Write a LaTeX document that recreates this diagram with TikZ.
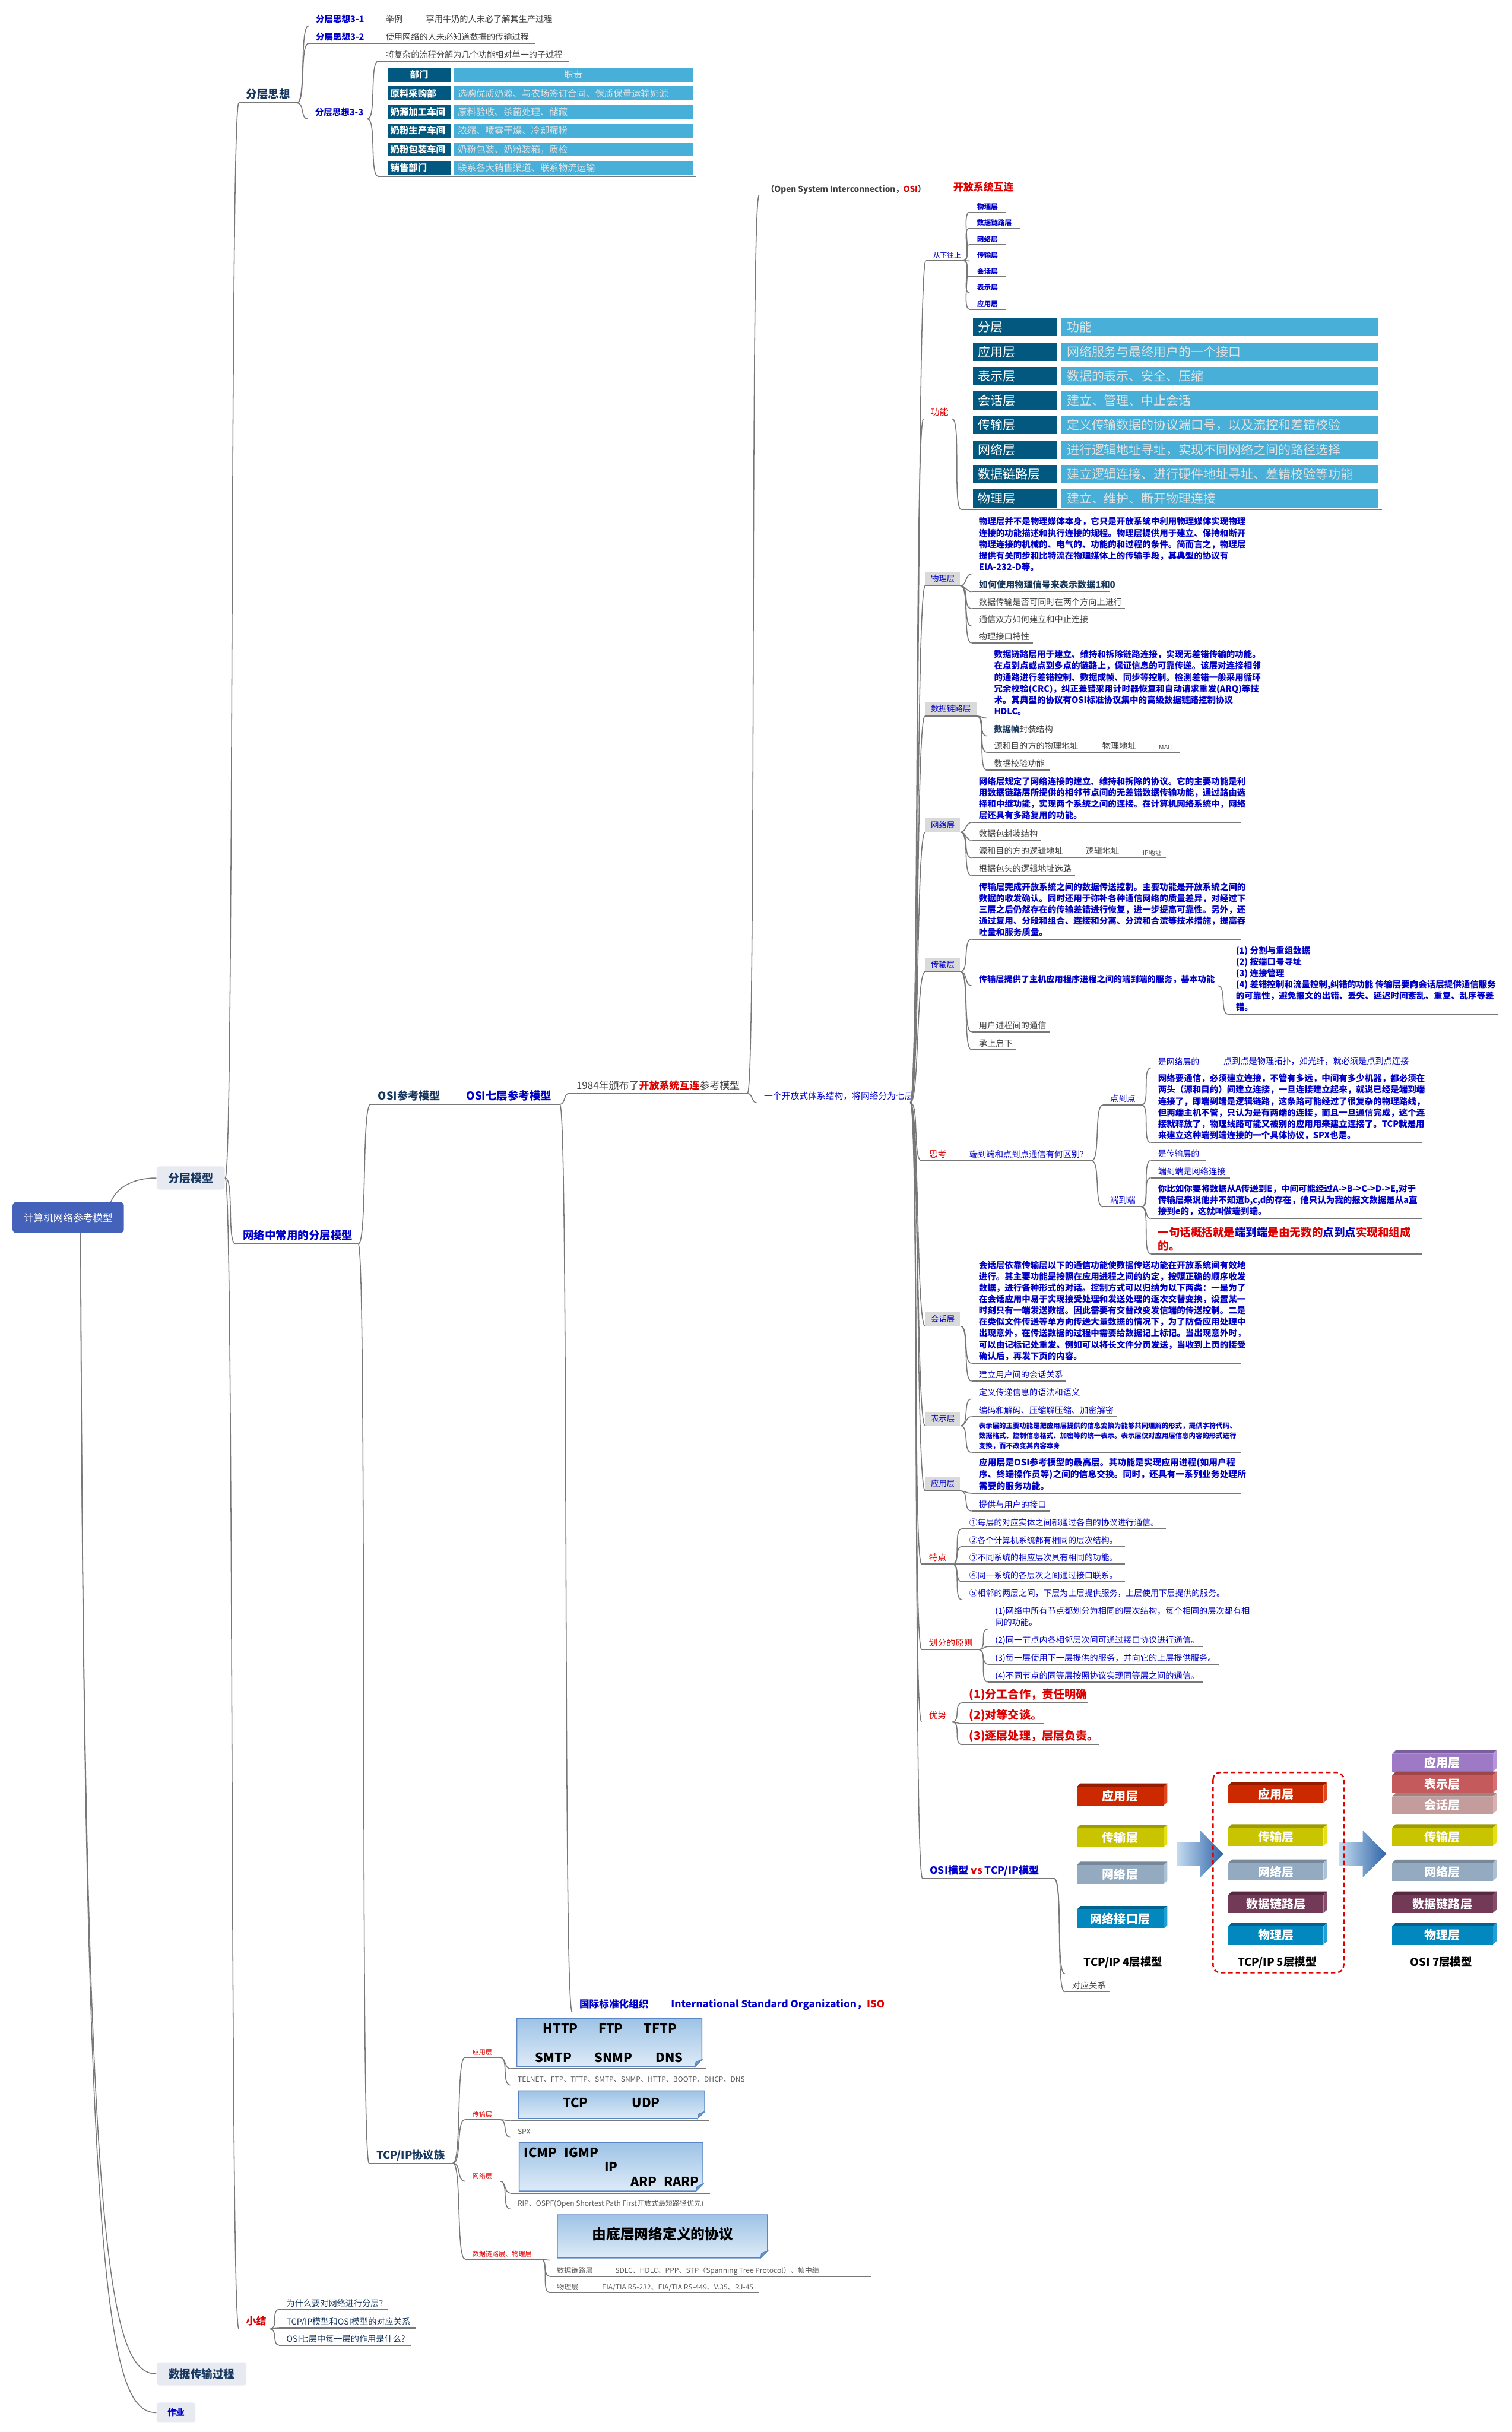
\documentclass[tikz,border=0pt]{standalone}
\usepackage{fontspec}
\setmainfont{Noto Sans CJK SC}
\usepackage{xcolor}
\usepackage{tikz}
\usetikzlibrary{positioning,calc}

\tikzset{
  link/.style={draw=linegray, line width=0.5pt},
  uline/.style={draw=linegray, line width=0.5pt},
  txt/.style={anchor=base west, inner sep=0pt},
  partxt/.style={anchor=south west, inner sep=0pt, align=left},
  celltxt/.style={anchor=west, inner sep=0pt},
  rootbox/.style={fill=rootblue, text=white, rounded corners=2pt, minimum width=60.8pt, minimum height=16.9pt, inner sep=0pt, font=\fontsize{5.4}{5.4}\selectfont},
  pill/.style={fill=pillbg, text=navy, rounded corners=1.5pt, minimum width=37.2pt, minimum height=12.7pt, inner sep=0pt, font=\fontsize{6.2}{6.2}\selectfont\bfseries},
  lblbox/.style={fill=lblgray, text=refblue, minimum width=18.9pt, minimum height=7.5pt, inner sep=0pt, font=\fontsize{4.35}{4.35}\selectfont},
  layertxt/.style={text=white, inner sep=0pt, font=\fontsize{6.5}{6.5}\selectfont\bfseries},
  prototxt/.style={text=black, inner sep=0pt, font=\fontsize{7}{7}\selectfont\bfseries},
  modeltxt/.style={text=black, inner sep=0pt, font=\fontsize{6}{6}\selectfont\bfseries},
}

\newcommand{\pfont}{\fontsize{4.7}{6.2}\selectfont\bfseries}
\newcommand{\conn}[2]{\draw[link] (#1) to[out=0,in=180,max distance=5pt] (#2);}
\newcommand{\leaf}[7]{%
  \coordinate (#1-l) at (#2,#4);
  \coordinate (#1-r) at (#3,#4);
  \draw[uline] (#1-l) -- (#1-r);
  \node[txt,#6,font=\fontsize{#5}{#5}\selectfont] (#1) at ({#2+4.5},{#4-0.47*#5}) {#7};}
\newcommand{\paranode}[7]{%
  \coordinate (#1-l) at (#2,#4);
  \coordinate (#1-r) at (#3,#4);
  \draw[uline] (#1-l) -- (#1-r);
  \node[partxt,#6,font=#5] (#1) at ({#2+4.5},{#4-1.6}) {#7};}
\newcommand{\layerbox}[7]{%
  \fill[#6t] (#2,{#3+2.2}) -- ({#2+2.2},#3) -- (#4,#3) -- ({#4-2.5},{#3+2.2}) -- cycle;
  \fill[#6s] ({#4-2.5},{#3+2.2}) -- (#4,#3) -- (#4,{#5-2.2}) -- ({#4-2.5},#5) -- cycle;
  \fill[#6f] (#2,{#3+2.2}) rectangle ({#4-2.5},#5);
  \node[layertxt] (#1) at ({(#2+#4-2.5)/2},{(#3+2.2+#5)/2}) {#7};}
\newcommand{\protobox}[5]{%
  \shade[top color=protop, bottom color=probot] (#2,#3) -- (#4,#3) -- (#4,{#5-4.5}) -- ({#4-4.5},#5) -- (#2,#5) -- cycle;
  \draw[proline, line width=0.5pt] (#2,#3) -- (#4,#3) -- (#4,{#5-4.5}) -- ({#4-4.5},#5) -- (#2,#5) -- cycle;
  \filldraw[draw=proline, fill=profold, line width=0.4pt] (#4,{#5-4.5}) -- ({#4-4.5},#5) -- ({#4-3.8},{#5-3}) -- cycle;
  \coordinate (#1) at ({(#2+#4)/2},{(#3+#5)/2});}

\begin{document}
\begin{tikzpicture}[x=0.02977cm, y=-0.02977cm]
    % Define colors
    \definecolor{refblue}{RGB}{0,0,204}
    \definecolor{refred}{RGB}{224,0,0}
    \definecolor{navy}{RGB}{23,55,94}
    \definecolor{txtgray}{RGB}{64,64,64}
    \definecolor{protgray}{RGB}{89,89,89}
    \definecolor{linegray}{RGB}{120,120,120}
    \definecolor{rootblue}{RGB}{68,98,186}
    \definecolor{pillbg}{RGB}{232,234,242}
    \definecolor{lblgray}{RGB}{218,218,218}
    \definecolor{tabdark}{RGB}{2,88,126}
    \definecolor{tablight}{RGB}{72,176,216}
    \definecolor{tabtext}{RGB}{225,225,225}
    \definecolor{protop}{RGB}{157,195,230}
    \definecolor{probot}{RGB}{222,235,247}
    \definecolor{proline}{RGB}{91,134,196}
    \definecolor{profold}{RGB}{110,150,205}
    \definecolor{arrl}{RGB}{197,220,240}
    \definecolor{arrr}{RGB}{46,100,168}
    \definecolor{appf}{RGB}{204,41,0}    \definecolor{appt}{RGB}{150,28,0}   \definecolor{apps}{RGB}{224,70,30}
    \definecolor{traf}{RGB}{200,196,0}   \definecolor{trat}{RGB}{158,155,0}  \definecolor{tras}{RGB}{228,224,20}
    \definecolor{netf}{RGB}{148,170,192} \definecolor{nett}{RGB}{118,136,154} \definecolor{nets}{RGB}{172,192,212}
    \definecolor{phyf}{RGB}{2,135,190}   \definecolor{phyt}{RGB}{0,100,142}  \definecolor{phys}{RGB}{30,160,214}
    \definecolor{dlkf}{RGB}{115,58,88}   \definecolor{dlkt}{RGB}{88,40,64}   \definecolor{dlks}{RGB}{135,76,106}
    \definecolor{osaf}{RGB}{158,122,198} \definecolor{osat}{RGB}{122,94,160} \definecolor{osas}{RGB}{182,150,218}
    \definecolor{prsf}{RGB}{196,90,92}   \definecolor{prst}{RGB}{160,70,72}  \definecolor{prss}{RGB}{216,112,114}
    \definecolor{sesf}{RGB}{196,156,156} \definecolor{sest}{RGB}{164,128,128} \definecolor{sess}{RGB}{216,178,178}

    \fill[white] (0,0) rectangle (975,1568);
    \useasboundingbox (0,0) rectangle (975,1568);

    % Root and first level
    \node[rootbox] (root) at (44,785) {计算机网络参考模型};
    \node[pill] (fcmx) at (123,759.5) {分层模型};
    \node[pill, minimum width=49pt, font=\fontsize{6}{6}\selectfont\bfseries] (sjcs) at (130,1530.5) {数据传输过程};
    \node[pill, minimum width=21.1pt, minimum height=11pt, text=refblue, font=\fontsize{4.7}{4.7}\selectfont\bfseries] (zy) at (113.5,1555.5) {作业};
    \coordinate (roothead) at (71.4,775);
    \coordinate (rootfoot) at (52,795);
    \draw[link] (roothead) .. controls (76,764) and (88,759.5) .. (fcmx.west);
    \draw[link] (rootfoot) .. controls (54,1450) and (70,1530.5) .. (sjcs.west);
    \draw[link] (rootfoot) .. controls (54,1480) and (70,1555.5) .. (zy.west);

    % Second level
    \leaf{fcsx}{154}{191.5}{66.3}{6}{text=navy}{\bfseries 分层思想}
    \leaf{wlzc}{152}{231}{802}{6}{text=refblue}{\bfseries 网络中常用的分层模型}
    \leaf{xj}{154}{174.3}{1501.5}{5.5}{text=refred}{\bfseries 小结}
    \conn{fcmx.east}{fcsx-l}
    \conn{fcmx.east}{wlzc-l}
    \conn{fcmx.east}{xj-l}

    % Layering idea
    \leaf{sxa}{199}{238}{16.6}{4.7}{text=refblue}{\bfseries 分层思想3-1}
    \leaf{jl}{244}{264}{16.6}{4.6}{text=txtgray}{举例}
    \leaf{xyny}{270}{360.6}{16.6}{4.6}{text=txtgray}{享用牛奶的人未必了解其生产过程}
    \leaf{sxb}{199}{238}{28}{4.7}{text=refblue}{\bfseries 分层思想3-2}
    \leaf{sywl}{244}{345}{28}{4.6}{text=txtgray}{使用网络的人未必知道数据的传输过程}
    \leaf{sxc}{198.5}{237}{76.7}{4.7}{text=refblue}{\bfseries 分层思想3-3}
    \leaf{jfz}{244}{367}{39.4}{4.6}{text=txtgray}{将复杂的流程分解为几个功能相对单一的子过程}
    \coordinate (tba-l) at (244,113.7);
    \coordinate (tba-r) at (449,113.7);
    \draw[uline] (tba-l) -- (tba-r);
    \conn{fcsx-r}{sxa-l}
    \conn{fcsx-r}{sxb-l}
    \conn{fcsx-r}{sxc-l}
    \conn{sxa-r}{jl-l}
    \conn{jl-r}{xyny-l}
    \conn{sxb-r}{sywl-l}
    \conn{sxc-r}{jfz-l}
    \conn{sxc-r}{tba-l}

    % Department table
    \fill[tabdark] (250,43.7) rectangle (290.6,52.8);
    \fill[tablight] (292.7,43.7) rectangle (446.6,52.8);
    \node[text=white, inner sep=0pt, font=\fontsize{5}{5}\selectfont\bfseries] (dept0) at (270.3,48.25) {部门};
    \node[text=tabtext, inner sep=0pt, font=\fontsize{5}{5}\selectfont] (duty0) at (369.6,48.25) {职责};
    \foreach \i/\dept/\duty in {1/原料采购部/{选购优质奶源、与农场签订合同、保质保量运输奶源}, 2/奶源加工车间/{原料验收、杀菌处理、储藏}, 3/奶粉生产车间/{浓缩、喷雾干燥、冷却筛粉}, 4/奶粉包装车间/{奶粉包装、奶粉装箱，质检}, 5/销售部门/{联系各大销售渠道、联系物流运输}} {
        \fill[tabdark] (250,{43.7+12*\i}) rectangle (290.6,{52.8+12*\i});
        \fill[tablight] (292.7,{43.7+12*\i}) rectangle (446.6,{52.8+12*\i});
        \node[celltxt, text=white, font=\fontsize{5}{5}\selectfont\bfseries] (dept\i) at (251.5,{48.25+12*\i}) {\dept};
        \node[celltxt, text=tabtext, font=\fontsize{5}{5}\selectfont] (duty\i) at (295,{48.25+12*\i}) {\duty};
    }

    % Common layered models
    \leaf{osick}{239}{292}{712}{5.9}{text=navy}{\bfseries OSI参考模型}
    \leaf{osiqc}{296}{361}{712}{6}{text=refblue}{\bfseries OSI七层参考模型}
    \leaf{tcpz}{238}{292}{1394.7}{5.9}{text=navy}{\bfseries TCP/IP协议族}
    \conn{wlzc-r}{osick-l}
    \conn{wlzc-r}{tcpz-l}
    \conn{osick-r}{osiqc-l}

    \leaf{nb}{367}{482}{705}{5.5}{text=txtgray}{1984年颁布了\textcolor{refred}{\bfseries 开放系统互连}参考模型}
    \leaf{gjbz}{368.9}{426}{1297.1}{5.4}{text=refblue}{\bfseries 国际标准化组织}
    \leaf{isoen}{428}{584}{1297.1}{5.5}{text=refblue}{\bfseries International Standard Organization，\textcolor{refred}{ISO}}
    \conn{osiqc-r}{nb-l}
    \conn{osiqc-r}{gjbz-l}
    \conn{gjbz-r}{isoen-l}

    \leaf{osien}{489.5}{608}{125.8}{4.4}{text=txtgray}{\bfseries （Open System Interconnection，\textcolor{refred}{OSI}）}
    \leaf{kfxt}{610}{655.2}{125.8}{5.5}{text=refred}{\bfseries 开放系统互连}
    \leaf{ygkf}{488}{587}{711}{4.8}{text=refblue}{一个开放式体系结构，将网络分为七层}
    \conn{nb-r}{osien-l}
    \conn{nb-r}{ygkf-l}
    \conn{osien-r}{kfxt-l}

    % Seven layers, bottom up
    \leaf{cxws}{597}{621.4}{168}{3.8}{text=refblue}{从下往上}
    \conn{ygkf-r}{cxws-l}
    \foreach \i/\yy/\xe/\lbl in {1/136.8/648.5/物理层, 2/147.2/657.5/数据链路层, 3/157.7/648.5/网络层, 4/168.2/648.5/传输层, 5/178.4/648.5/会话层, 6/188.9/648.5/表示层, 7/199.4/648.5/应用层} {
        \leaf{cx\i}{625.3}{\xe}{\yy}{3.8}{text=refblue}{\bfseries\lbl}
        \conn{cxws-r}{cx\i-l}
    }

    % Function table
    \leaf{gn}{595.5}{614}{270}{4.8}{text=refred}{功能}
    \coordinate (tbb-l) at (620,328.7);
    \coordinate (tbb-r) at (891.2,328.7);
    \draw[uline] (tbb-l) -- (tbb-r);
    \conn{ygkf-r}{gn-l}
    \conn{gn-r}{tbb-l}
    \foreach \i/\lay/\fun in {0/分层/功能, 1/应用层/{网络服务与最终用户的一个接口}, 2/表示层/{数据的表示、安全、压缩}, 3/会话层/{建立、管理、中止会话}, 4/传输层/{定义传输数据的协议端口号，以及流控和差错校验}, 5/网络层/{进行逻辑地址寻址，实现不同网络之间的路径选择}, 6/数据链路层/{建立逻辑连接、进行硬件地址寻址、差错校验等功能}, 7/物理层/{建立、维护、断开物理连接}} {
        \fill[tabdark] (627.6,{205+15.8*\i}) rectangle (681.4,{216.8+15.8*\i});
        \fill[tablight] (684.3,{205+15.8*\i}) rectangle (888.7,{216.8+15.8*\i});
        \node[celltxt, text=white, font=\fontsize{6.8}{6.8}\selectfont] (lay\i) at (630.6,{210.9+15.8*\i}) {\lay};
        \node[celltxt, text=tabtext, font=\fontsize{6.8}{6.8}\selectfont] (fun\i) at (687.7,{210.9+15.8*\i}) {\fun};
    }

    % Layer label boxes
    \node[lblbox] (wlc) at (608,373) {物理层};
    \node[lblbox, minimum width=28pt] (sjl) at (613.2,457) {数据链路层};
    \node[lblbox] (wll) at (608,531.85) {网络层};
    \node[lblbox] (csl) at (608,621.75) {传输层};
    \node[lblbox] (hhc) at (608,850.4) {会话层};
    \node[lblbox] (bsc) at (608,914.6) {表示层};
    \node[lblbox] (yyc) at (608,956.6) {应用层};
    \foreach \b in {wlc,sjl,wll,csl,hhc,bsc,yyc} {
        \draw[uline] (\b.south west) -- (\b.south east);
        \conn{ygkf-r}{\b.south west}
    }

    % Physical layer
    \paranode{wlcp}{626.5}{800.5}{370}{\pfont}{text=refblue}{物理层并不是物理媒体本身，它只是开放系统中利用物理媒体实现物理\\连接的功能描述和执行连接的规程。物理层提供用于建立、保持和断开\\物理连接的机械的、电气的、功能的和过程的条件。简而言之，物理层\\提供有关同步和比特流在物理媒体上的传输手段，其典型的协议有\\EIA-232-D等。}
    \leaf{wlca}{626.5}{715.6}{381.5}{4.9}{text=navy}{\bfseries 如何使用物理信号来表示数据1和0}
    \leaf{wlcb}{626.5}{725.4}{392.4}{4.6}{text=txtgray}{数据传输是否可同时在两个方向上进行}
    \leaf{wlcc}{626.5}{703.7}{403.7}{4.6}{text=txtgray}{通信双方如何建立和中止连接}
    \leaf{wlcd}{626.5}{666.2}{414.6}{4.6}{text=txtgray}{物理接口特性}
    \foreach \c in {wlcp,wlca,wlcb,wlcc,wlcd} {\conn{wlc.south east}{\c-l}}

    % Data link layer
    \paranode{sjlp}{636.3}{811}{463}{\pfont}{text=refblue}{数据链路层用于建立、维持和拆除链路连接，实现无差错传输的功能。\\在点到点或点到多点的链路上，保证信息的可靠传递。该层对连接相邻\\的通路进行差错控制、数据成帧、同步等控制。检测差错一般采用循环\\冗余校验(CRC)，纠正差错采用计时器恢复和自动请求重发(ARQ)等技\\术。其典型的协议有OSI标准协议集中的高级数据链路控制协议\\HDLC。}
    \leaf{sjla}{636.3}{682.3}{474.5}{4.6}{text=txtgray}{\textcolor{navy}{\bfseries 数据帧}封装结构}
    \leaf{sjlb}{636.3}{696.4}{485}{4.6}{text=txtgray}{源和目的方的物理地址}
    \leaf{sjlc}{706.1}{733.3}{485}{4.6}{text=txtgray}{物理地址}
    \leaf{sjld}{742.5}{760.5}{485}{3.5}{text=txtgray}{MAC}
    \leaf{sjle}{636.3}{677.2}{496.6}{4.6}{text=txtgray}{数据校验功能}
    \foreach \c in {sjlp,sjla,sjlb,sjle} {\conn{sjl.south east}{\c-l}}
    \conn{sjlb-r}{sjlc-l}
    \conn{sjlc-r}{sjld-l}

    % Network layer
    \paranode{wllp}{626.5}{800.5}{530.2}{\pfont}{text=refblue}{网络层规定了网络连接的建立、维持和拆除的协议。它的主要功能是利\\用数据链路层所提供的相邻节点间的无差错数据传输功能，通过路由选\\择和中继功能，实现两个系统之间的连接。在计算机网络系统中，网络\\层还具有多路复用的功能。}
    \leaf{wlla}{626.5}{671.6}{541.8}{4.6}{text=txtgray}{数据包封装结构}
    \leaf{wllb}{626.5}{686.9}{553}{4.6}{text=txtgray}{源和目的方的逻辑地址}
    \leaf{wllc}{695.3}{724.4}{553}{4.6}{text=txtgray}{逻辑地址}
    \leaf{wlld}{732.1}{751.7}{553}{3.5}{text=txtgray}{IP地址}
    \leaf{wlle}{626.5}{693.3}{564.5}{4.6}{text=txtgray}{根据包头的逻辑地址选路}
    \foreach \c in {wllp,wlla,wllb,wlle} {\conn{wll.south east}{\c-l}}
    \conn{wllb-r}{wllc-l}
    \conn{wllc-r}{wlld-l}

    % Transport layer
    \paranode{cslp}{626.5}{800.5}{605.6}{\pfont}{text=refblue}{传输层完成开放系统之间的数据传送控制。主要功能是开放系统之间的\\数据的收发确认。同时还用于弥补各种通信网络的质量差异，对经过下\\三层之后仍然存在的传输差错进行恢复，进一步提高可靠性。另外，还\\通过复用、分段和组合、连接和分离、分流和合流等技术措施，提高吞\\吐量和服务质量。}
    \leaf{csla}{626.5}{785.3}{635.6}{4.6}{text=refblue}{\bfseries 传输层提供了主机应用程序进程之间的端到端的服务，基本功能}
    \paranode{cslb}{792.2}{966.3}{653.9}{\pfont}{text=refblue}{(1) 分割与重组数据\\(2) 按端口号寻址\\(3) 连接管理\\(4) 差错控制和流量控制,纠错的功能 传输层要向会话层提供通信服务\\的可靠性，避免报文的出错、丢失、延迟时间紊乱、重复、乱序等差\\错。}
    \leaf{cslc}{626.5}{677.2}{665.3}{4.6}{text=txtgray}{用户进程间的通信}
    \leaf{csld}{626.5}{655.5}{676.8}{4.6}{text=txtgray}{承上启下}
    \foreach \c in {cslp,csla,cslc,csld} {\conn{csl.south east}{\c-l}}
    \conn{csla-r}{cslb-l}

    % Thinking: end to end and point to point
    \leaf{sk}{594.3}{614.1}{748.4}{4.8}{text=refred}{思考}
    \leaf{skq}{620.3}{703.9}{748.4}{4.65}{text=refblue}{端到端和点到点通信有何区别?}
    \leaf{ddd}{711.2}{736.1}{712.4}{4.6}{text=refblue}{点到点}
    \leaf{ddda}{742.1}{778.3}{688.5}{4.5}{text=refblue}{是网络层的}
    \leaf{dddb}{784.3}{910.4}{688.5}{4.6}{text=refblue}{点到点是物理拓扑，如光纤，就必须是点到点连接}
    \paranode{dddc}{742.1}{917}{736.7}{\pfont}{text=refblue}{网络要通信，必须建立连接，不管有多远，中间有多少机器，都必须在\\两头（源和目的）间建立连接，一旦连接建立起来，就说已经是端到端\\连接了，即端到端是逻辑链路，这条路可能经过了很复杂的物理路线，\\但两端主机不管，只认为是有两端的连接，而且一旦通信完成，这个连\\接就释放了，物理线路可能又被别的应用用来建立连接了。TCP就是用\\来建立这种端到端连接的一个具体协议，SPX也是。}
    \leaf{dtd}{711.2}{736.1}{778.1}{4.6}{text=refblue}{端到端}
    \leaf{dtda}{742.1}{777.5}{748.2}{4.5}{text=refblue}{是传输层的}
    \leaf{dtdb}{742.1}{793}{759.4}{4.6}{text=refblue}{端到端是网络连接}
    \paranode{dtdc}{742.1}{917}{785.7}{\pfont}{text=refblue}{你比如你要将数据从A传送到E，中间可能经过A->B->C->D->E,对于\\传输层来说他并不知道b,c,d的存在，他只认为我的报文数据是从a直\\接到e的，这就叫做端到端。}
    \paranode{dtdd}{742.1}{917}{808.5}{\fontsize{6}{7.6}\selectfont\bfseries}{text=refred}{一句话概括就是\textcolor{refblue}{端到端}是由无数的\textcolor{refblue}{点到点}实现和组成\\的。}
    \conn{ygkf-r}{sk-l}
    \conn{sk-r}{skq-l}
    \conn{skq-r}{ddd-l}
    \conn{skq-r}{dtd-l}
    \conn{ddd-r}{ddda-l}
    \conn{ddd-r}{dddc-l}
    \conn{ddda-r}{dddb-l}
    \foreach \c in {dtda,dtdb,dtdc,dtdd} {\conn{dtd-r}{\c-l}}

    % Session, presentation, application layers
    \paranode{hhcp}{626.5}{800.5}{879}{\pfont}{text=refblue}{会话层依靠传输层以下的通信功能使数据传送功能在开放系统间有效地\\进行。其主要功能是按照在应用进程之间的约定，按照正确的顺序收发\\数据，进行各种形式的对话。控制方式可以归纳为以下两类：一是为了\\在会话应用中易于实现接受处理和发送处理的逐次交替变换，设置某一\\时刻只有一端发送数据。因此需要有交替改变发信端的传送控制。二是\\在类似文件传送等单方向传送大量数据的情况下，为了防备应用处理中\\出现意外，在传送数据的过程中需要给数据记上标记。当出现意外时，\\可以由记标记处重发。例如可以将长文件分页发送，当收到上页的接受\\确认后，再发下页的内容。}
    \leaf{hhca}{626.5}{687.4}{890.5}{4.6}{text=refblue}{建立用户间的会话关系}
    \conn{hhc.south east}{hhcp-l}
    \conn{hhc.south east}{hhca-l}
    \leaf{bsca}{626.5}{698.2}{902}{4.6}{text=refblue}{定义传递信息的语法和语义}
    \leaf{bscb}{626.5}{719.9}{913.3}{4.6}{text=refblue}{编码和解码、压缩解压缩、加密解密}
    \paranode{bscc}{626.5}{800.5}{936.4}{\fontsize{3.7}{5.45}\selectfont\bfseries}{text=refblue}{表示层的主要功能是把应用层提供的信息变换为能够共同理解的形式，提供字符代码、\\数据格式、控制信息格式、加密等的统一表示。表示层仅对应用层信息内容的形式进行\\变换，而不改变其内容本身}
    \foreach \c in {bsca,bscb,bscc} {\conn{bsc.south east}{\c-l}}
    \paranode{yycp}{626.5}{800.5}{962.8}{\fontsize{4.8}{6.5}\selectfont\bfseries}{text=refblue}{应用层是OSI参考模型的最高层。其功能是实现应用进程(如用户程\\序、终端操作员等)之间的信息交换。同时，还具有一系列业务处理所\\需要的服务功能。}
    \leaf{yyca}{626.5}{677.2}{974.2}{4.6}{text=refblue}{提供与用户的接口}
    \conn{yyc.south east}{yycp-l}
    \conn{yyc.south east}{yyca-l}

    % Features
    \leaf{td}{594.3}{614.1}{1008.4}{4.8}{text=refred}{特点}
    \conn{ygkf-r}{td-l}
    \foreach \i/\yy/\xe/\lbl in {1/985.7/752/{①每层的对应实体之间都通过各自的协议进行通信。}, 2/997.1/725.4/{②各个计算机系统都有相同的层次结构。}, 3/1008.4/725.4/{③不同系统的相应层次具有相同的功能。}, 4/1019.8/725.4/{④同一系统的各层次之间通过接口联系。}, 5/1031.4/795/{⑤相邻的两层之间，下层为上层提供服务，上层使用下层提供的服务。}} {
        \leaf{td\i}{620.3}{\xe}{\yy}{4.5}{text=refblue}{\lbl}
        \conn{td-r}{td\i-l}
    }

    % Division principles
    \leaf{hf}{594.3}{631.2}{1063.5}{4.8}{text=refred}{划分的原则}
    \paranode{hfa}{637}{811.1}{1050.3}{\fontsize{4.6}{6.2}\selectfont}{text=refblue}{(1)网络中所有节点都划分为相同的层次结构，每个相同的层次都有相\\同的功能。}
    \leaf{hfb}{637}{775.9}{1061.6}{4.6}{text=refblue}{(2)同一节点内各相邻层次间可通过接口协议进行通信。}
    \leaf{hfc}{637}{786.4}{1073}{4.6}{text=refblue}{(3)每一层使用下一层提供的服务，并向它的上层提供服务。}
    \leaf{hfd}{637}{775.9}{1084.4}{4.6}{text=refblue}{(4)不同节点的同等层按照协议实现同等层之间的通信。}
    \conn{ygkf-r}{hf-l}
    \foreach \c in {hfa,hfb,hfc,hfd} {\conn{hf-r}{\c-l}}

    % Advantages
    \leaf{ys}{594.3}{614.1}{1110.3}{4.8}{text=refred}{优势}
    \leaf{ysa}{620.3}{701.3}{1097.9}{6.2}{text=refred}{\bfseries (1)分工合作，责任明确}
    \leaf{ysb}{620.3}{673.5}{1111.3}{6.2}{text=refred}{\bfseries (2)对等交谈。}
    \leaf{ysc}{620.3}{708.9}{1124.8}{6.2}{text=refred}{\bfseries (3)逐层处理，层层负责。}
    \conn{ygkf-r}{ys-l}
    \foreach \c in {ysa,ysb,ysc} {\conn{ys-r}{\c-l}}

    % OSI vs TCP/IP
    \leaf{vs}{594.9}{679.7}{1211.1}{5.6}{text=refblue}{\bfseries OSI模型 \textcolor{refred}{vs} TCP/IP模型}
    \coordinate (vsimg-l) at (686.6,1272.6);
    \coordinate (vsimg-r) at (968.8,1272.6);
    \draw[uline] (vsimg-l) -- (vsimg-r);
    \leaf{dygx}{686.6}{715.4}{1284.2}{4.6}{text=txtgray}{对应关系}
    \conn{ygkf-r}{vs-l}
    \conn{vs-r}{vsimg-l}
    \conn{vs-r}{dygx-l}

    \shade[left color=arrl, right color=arrr] (758.8,1187.8) -- (774.1,1187.8) -- (774.1,1180.3) -- (788.9,1195.3) -- (774.1,1210.3) -- (774.1,1202.7) -- (758.8,1202.7) -- cycle;
    \shade[left color=arrl, right color=arrr] (863.6,1187.8) -- (878.8,1187.8) -- (878.8,1180.3) -- (894.1,1195.3) -- (878.8,1210.3) -- (878.8,1202.7) -- (863.6,1202.7) -- cycle;

    \layerbox{fapp}{694.5}{1149.8}{752.7}{1164.1}{app}{应用层}
    \layerbox{ftra}{694.5}{1176.4}{752.7}{1190.9}{tra}{传输层}
    \layerbox{fnet}{694.5}{1200.2}{752.7}{1214.7}{net}{网络层}
    \layerbox{fif}{694.5}{1228.9}{752.7}{1243.5}{phy}{网络接口层}

    \layerbox{vapp}{792.1}{1148.9}{855.9}{1162.4}{app}{应用层}
    \layerbox{vtra}{792.1}{1176.1}{855.9}{1190.1}{tra}{传输层}
    \layerbox{vnet}{792.1}{1198.8}{855.9}{1212.5}{net}{网络层}
    \layerbox{vdlk}{792.1}{1219.5}{855.9}{1233.4}{dlk}{数据链路层}
    \layerbox{vphy}{792.1}{1239.7}{855.9}{1253.6}{phy}{物理层}

    \layerbox{sapp}{897.8}{1128.5}{965.1}{1142.2}{osa}{应用层}
    \layerbox{sprs}{897.8}{1142.2}{965.1}{1156}{prs}{表示层}
    \layerbox{sses}{897.8}{1156}{965.1}{1169.4}{ses}{会话层}
    \layerbox{stra}{897.8}{1176.1}{965.1}{1190.1}{tra}{传输层}
    \layerbox{snet}{897.8}{1198.9}{965.1}{1212.7}{net}{网络层}
    \layerbox{sdlk}{897.8}{1219.5}{965.1}{1233.4}{dlk}{数据链路层}
    \layerbox{sphy}{897.8}{1239.7}{965.1}{1253.6}{phy}{物理层}

    \node[modeltxt] (lblfour) at (724.3,1265.1) {TCP/IP 4层模型};
    \node[modeltxt] (lblfive) at (823.6,1265.1) {TCP/IP 5层模型};
    \node[modeltxt] (lblseven) at (929.4,1265.1) {OSI 7层模型};
    \draw[refred, line width=0.8pt, dash pattern=on 2.4pt off 1.6pt, rounded corners=4pt] (782.2,1142.7) rectangle (866.5,1271.8);

    % TCP/IP protocol family
    \leaf{pa}{299.9}{322.4}{1326.4}{3.6}{text=refred}{应用层}
    \leaf{pb}{299.9}{322.4}{1366.6}{3.6}{text=refred}{传输层}
    \leaf{pc}{299.9}{322.4}{1406.3}{3.6}{text=refred}{网络层}
    \leaf{pd}{299.9}{348.6}{1456.5}{3.6}{text=refred}{数据链路层、物理层}
    \foreach \c in {pa,pb,pc,pd} {\conn{tcpz-r}{\c-l}}

    \protobox{pba}{333.3}{1301.3}{452.6}{1332.4}
    \protobox{pbb}{334.3}{1348}{454.4}{1365.9}
    \protobox{pbc}{334.8}{1381.5}{453.3}{1412.6}
    \protobox{pbd}{359.4}{1427.9}{494.9}{1455.8}
    \node[prototxt] (http) at (361.4,1308) {HTTP};
    \node[prototxt] (ftp) at (393.9,1308) {FTP};
    \node[prototxt] (tftp) at (425.9,1308) {TFTP};
    \node[prototxt] (smtp) at (356.9,1326.6) {SMTP};
    \node[prototxt] (snmp) at (395.6,1326.6) {SNMP};
    \node[prototxt] (dns) at (431.6,1326.6) {DNS};
    \node[prototxt] (tcp) at (371.1,1355.7) {TCP};
    \node[prototxt] (udp) at (416.6,1355.7) {UDP};
    \node[prototxt] (icmp) at (348.6,1387.9) {ICMP};
    \node[prototxt] (igmp) at (374.9,1387.9) {IGMP};
    \node[prototxt] (ip) at (394.1,1397.2) {IP};
    \node[prototxt] (arp) at (415.1,1406.8) {ARP};
    \node[prototxt] (rarp) at (439.4,1406.8) {RARP};
    \node[prototxt, font=\fontsize{7.7}{7.7}\selectfont\bfseries] (dcwl) at (427.4,1440.5) {由底层网络定义的协议};

    \foreach \n/\x/\xe/\yy in {pimga/329.1/455.6/1333.8, pimgb/329.1/457.4/1367.3, pimgc/329.1/457.8/1414, pimgd/354.5/497.9/1457.2} {
        \coordinate (\n-l) at (\x,\yy);
        \coordinate (\n-r) at (\xe,\yy);
        \draw[uline] (\n-l) -- (\n-r);
    }
    \leaf{pab}{329.1}{477.6}{1344.3}{3.9}{text=protgray}{TELNET、FTP、TFTP、SMTP、SNMP、HTTP、BOOTP、DHCP、DNS}
    \leaf{pbs}{329.1}{345.9}{1378}{3.9}{text=protgray}{SPX}
    \leaf{pcs}{329.1}{452.1}{1424.2}{3.9}{text=protgray}{RIP、OSPF(Open Shortest Path First开放式最短路径优先)}
    \leaf{pdb}{354.5}{390}{1467.6}{3.9}{text=protgray}{数据链路层}
    \leaf{pdc}{392}{562}{1467.6}{3.9}{text=protgray}{SDLC、HDLC、PPP、STP（Spanning Tree Protocol）、帧中继}
    \leaf{pdd}{354.5}{382}{1478.1}{3.9}{text=protgray}{物理层}
    \leaf{pde}{383.5}{489.6}{1478.1}{3.9}{text=protgray}{EIA/TIA RS-232、EIA/TIA RS-449、V.35、RJ-45}
    \conn{pa-r}{pimga-l}
    \conn{pa-r}{pab-l}
    \conn{pb-r}{pimgb-l}
    \conn{pb-r}{pbs-l}
    \conn{pc-r}{pimgc-l}
    \conn{pc-r}{pcs-l}
    \conn{pd-r}{pimgd-l}
    \conn{pd-r}{pdb-l}
    \conn{pd-r}{pdd-l}
    \conn{pdb-r}{pdc-l}
    \conn{pdd-r}{pde-l}

    % Summary
    \leaf{xja}{180}{250}{1489}{4.6}{text=navy}{为什么要对网络进行分层?}
    \leaf{xjb}{180}{268}{1501}{4.6}{text=navy}{TCP/IP模型和OSI模型的对应关系}
    \leaf{xjc}{180}{265}{1512}{4.6}{text=navy}{OSI七层中每一层的作用是什么?}
    \foreach \c in {xja,xjb,xjc} {\conn{xj-r}{\c-l}}
\end{tikzpicture}
\end{document}
